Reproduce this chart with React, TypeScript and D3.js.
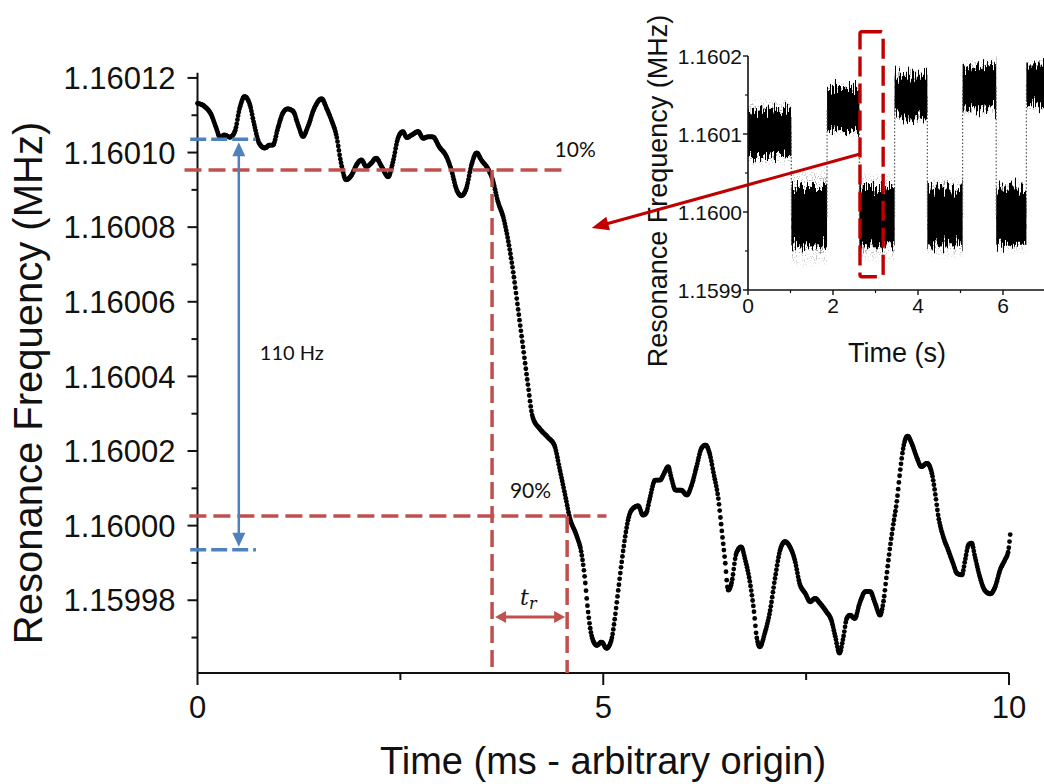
import React, { useLayoutEffect, useRef, useState } from "react";
import * as d3 from "d3";

// Frequencies are stored as offsets (Hz) from this base value.
const F0_MHZ = 1.16;

// Main trace: time (ms) and resonance-frequency offset (Hz)
const timeMs = [
  0.0, 0.09, 0.17, 0.23, 0.28, 0.33, 0.4, 0.46, 0.52, 0.58, 0.64, 0.7, 0.76, 0.83, 0.89, 0.93, 0.99,
  1.05, 1.11, 1.18, 1.24, 1.3, 1.36, 1.44, 1.53, 1.59, 1.65, 1.71, 1.77, 1.83, 1.9, 1.96, 2.02, 2.08,
  2.14, 2.2, 2.27, 2.35, 2.41, 2.47, 2.53, 2.58, 2.64, 2.72, 2.78, 2.84, 2.9, 2.98, 3.07, 3.13, 3.19,
  3.25, 3.31, 3.38, 3.44, 3.5, 3.58, 3.64, 3.7, 3.77, 3.83, 3.89, 3.95, 4.01, 4.07, 4.13, 4.22, 4.32,
  4.4, 4.46, 4.53, 4.59, 4.67, 4.73, 4.77, 4.81, 4.86, 4.92, 4.98, 5.04, 5.1, 5.14, 5.18, 5.22, 5.27,
  5.31, 5.35, 5.43, 5.49, 5.53, 5.57, 5.64, 5.7, 5.75, 5.8, 5.84, 5.89, 5.96, 6.03, 6.09, 6.15, 6.21,
  6.26, 6.31, 6.36, 6.42, 6.46, 6.5, 6.54, 6.58, 6.64, 6.7, 6.75, 6.81, 6.86, 6.89, 6.93, 6.99, 7.05,
  7.12, 7.18, 7.24, 7.3, 7.36, 7.42, 7.49, 7.55, 7.61, 7.67, 7.75, 7.81, 7.86, 7.91, 7.96, 8.0, 8.04,
  8.1, 8.16, 8.23, 8.29, 8.35, 8.41, 8.45, 8.49, 8.53, 8.57, 8.62, 8.66, 8.7, 8.75, 8.8, 8.86, 8.92,
  8.99, 9.05, 9.09, 9.13, 9.19, 9.25, 9.31, 9.36, 9.42, 9.46, 9.5, 9.54, 9.58, 9.64, 9.7, 9.77, 9.83,
  9.89, 9.95, 9.99, 10.02,
];
const freqHz = [
  113.2, 112.3, 110.1, 106.6, 104.0, 104.7, 104.1, 105.6, 111.9, 115.0, 113.2, 107.4, 102.5, 101.2,
  102.0, 102.0, 106.5, 110.5, 111.7, 111.0, 107.4, 104.3, 106.9, 111.9, 114.4, 111.9, 108.7, 104.7,
  97.1, 92.7, 94.0, 96.7, 98.0, 96.2, 97.1, 98.5, 96.2, 93.5, 97.6, 103.8, 105.6, 104.0, 104.7, 105.6,
  103.8, 104.2, 104.2, 101.5, 98.8, 95.2, 90.2, 88.4, 90.2, 97.0, 99.9, 97.9, 95.6, 92.5, 87.0, 82.5,
  76.2, 68.0, 58.1, 48.1, 38.1, 29.1, 25.9, 23.6, 21.4, 15.5, 8.2, 1.9, -2.6, -7.2, -13.5, -22.5,
  -29.8, -32.1, -31.2, -32.9, -30.7, -25.3, -18.2, -11.0, -3.0, 1.9, 4.2, 5.3, 2.8, 3.4, 6.9, 12.2,
  12.2, 14.0, 15.8, 12.7, 9.5, 9.5, 8.2, 10.9, 15.8, 20.7, 21.6, 19.4, 14.0, 6.9, -1.2, -9.2, -17.3,
  -15.5, -7.4, -5.7, -9.2, -15.5, -23.5, -29.8, -32.5, -28.9, -23.5, -13.7, -6.5, -4.3, -5.7, -9.2,
  -15.5, -18.2, -20.4, -19.5, -20.8, -23.1, -25.3, -29.8, -34.2, -29.8, -24.9, -24.0, -24.9, -20.8,
  -17.7, -17.7, -20.8, -24.0, -20.8, -13.7, -6.5, -0.3, 6.9, 14.9, 21.2, 24.0, 22.1, 18.5, 15.8, 16.7,
  14.0, 8.7, 2.4, -3.0, -6.5, -10.1, -12.8, -13.2, -9.2, -5.2, -4.7, -8.3, -13.7, -17.3, -18.3, -16.4,
  -11.9, -9.2, -7.0, -1.2,
];

// Main axes
const yTicksHz = [-20, 0, 20, 40, 60, 80, 100, 120];
const yMinorHz = [-30, -10, 10, 30, 50, 70, 90, 110];
const xTicksMs = [0, 5, 10];
const xMinorMs = [2.5, 7.5];

// Step annotations
const spanHz = 110;
const spanTopHz = 103.55;
const spanBottomHz = spanTopHz - spanHz;
const level10Hz = 95.3;
const level90Hz = 2.6;
const t10Ms = 3.63;
const t90Ms = 4.555;

// Inset: switching record between two frequency states
const insetEdgesS = [0, 1.02, 1.86, 2.62, 3.45, 4.22, 5.05, 5.84, 6.55, 7.05];
const insetLevelHz = [102, -6, 132, -6, 148, -7, 160, -6, 163];
const insetCoreHz = [29, 38, 27, 38, 28, 37, 27, 36, 26];
const insetSpreadHz = [46, 66, 38, 60, 35, 55, 39, 50, 36];
const insetYTicksHz = [-100, 0, 100, 200];
const insetYMinorHz = [-50, 50, 150];
const insetXTicksS = [0, 2, 4, 6];
const insetXMinorS = [1, 3, 5, 7];
const zoomWindowS = [2.635, 3.18];
const zoomWindowHz = [-83, 231];
const zoomArrowFrom = { s: 2.635, hz: 74.4 };
const zoomArrowTo = { ms: 4.858, hz: 79.8 };

const RED = "#C0504D";
const BLUE = "#4F81BD";
const DARK_RED = "#C00000";
const SANS = "'Liberation Sans', Arial, sans-serif";
const LABEL_FONT = "Lato, 'Open Sans', sans-serif";

const x = d3.scaleLinear().domain([0, 10]).range([197.5, 1009]);
const y = d3.scaleLinear().domain([-39.5, 121.4]).range([673, 72.7]);
const ix = d3.scaleLinear().domain([0, 2]).range([748, 833]);
const iy = d3.scaleLinear().domain([-100, 200]).range([290, 56]);

const fmtMain = (h: number) => (F0_MHZ + h * 1e-6).toFixed(5);
const fmtInset = (h: number) => (F0_MHZ + h * 1e-6).toFixed(4);

function arrowHead(tx: number, ty: number, fx: number, fy: number, len: number, half: number) {
  const dx = tx - fx;
  const dy = ty - fy;
  const n = Math.hypot(dx, dy) || 1;
  const ux = dx / n;
  const uy = dy / n;
  const bx = tx - ux * len;
  const by = ty - uy * len;
  return `${tx},${ty} ${bx - uy * half},${by + ux * half} ${bx + uy * half},${by - ux * half}`;
}

export default function App() {
  const pathRef = useRef<SVGPathElement>(null);
  const [dots, setDots] = useState<[number, number][]>([]);

  const line = d3
    .line<number>()
    .x((_, i) => x(timeMs[i]))
    .y((d) => y(d))
    .curve(d3.curveMonotoneX);
  const tracePath = line(freqHz) || "";

  // Place markers at an even time step along the drawn trace
  useLayoutEffect(() => {
    const p = pathRef.current;
    if (!p) return;
    const L = p.getTotalLength();
    const pts: [number, number][] = [];
    const step = 0.7;
    let nextX = x(timeMs[0]);
    for (let s = 0; s <= L; s += 0.25) {
      const q = p.getPointAtLength(s);
      if (q.x >= nextX) {
        pts.push([q.x, q.y]);
        nextX += step;
      }
    }
    setDots(pts);
  }, [tracePath]);

  const axisColor = "#111";
  const blueX = x(0.509);
  const yTop = y(spanTopHz);
  const yBot = y(spanBottomHz);

  const trX0 = x(t10Ms) + 3;
  const trX1 = x(t90Ms) - 2;
  const trY = y(-24.5);

  const aFromX = ix(zoomArrowFrom.s);
  const aFromY = iy(zoomArrowFrom.hz);
  const aToX = x(zoomArrowTo.ms);
  const aToY = y(zoomArrowTo.hz);

  return (
    <div style={{ position: "absolute", left: 0, top: 0 }}>
      <svg width={1044} height={784} style={{ display: "block", background: "#fff" }}>
        <defs>
          <filter id="jag" x="0" y="-1" width="1" height="3" colorInterpolationFilters="sRGB">
            <feTurbulence type="fractalNoise" baseFrequency="0.9 0.04" numOctaves={2} seed={4} result="n" />
            <feColorMatrix
              in="n"
              type="matrix"
              values="0 0 0 0 0.5  0 1 0 0 0  0 0 0 0 0  0 0 0 0 1"
              result="d"
            />
            <feDisplacementMap in="SourceGraphic" in2="d" scale={34} xChannelSelector="R" yChannelSelector="G" />
          </filter>
          <filter id="speckle" x="0" y="0" width="1" height="1" colorInterpolationFilters="sRGB">
            <feTurbulence type="fractalNoise" baseFrequency="1.1 0.5" numOctaves={1} seed={9} result="n" />
            <feColorMatrix
              in="n"
              type="matrix"
              values="0 0 0 0 0  0 0 0 0 0  0 0 0 0 0  14 0 0 0 -8"
              result="m"
            />
            <feComposite in="SourceGraphic" in2="m" operator="in" />
          </filter>
          <linearGradient id="fade" x1="0" y1="0" x2="0" y2="1">
            <stop offset="0" stopColor="#000" stopOpacity={0} />
            <stop offset="0.5" stopColor="#000" stopOpacity={1} />
            <stop offset="1" stopColor="#000" stopOpacity={0} />
          </linearGradient>
        </defs>

        {/* ---------- Inset ---------- */}
        <g>
          {insetLevelHz.map((lv, i) => {
            const x0 = ix(insetEdgesS[i]);
            const x1 = ix(insetEdgesS[i + 1]);
            return (
              <g key={`seg${i}`}>
                <rect
                  x={x0}
                  width={x1 - x0}
                  y={iy(lv + insetSpreadHz[i])}
                  height={iy(lv - insetSpreadHz[i]) - iy(lv + insetSpreadHz[i])}
                  fill="url(#fade)"
                  filter="url(#speckle)"
                />
                <rect
                  x={x0}
                  width={x1 - x0}
                  y={iy(lv + insetCoreHz[i])}
                  height={iy(lv - insetCoreHz[i]) - iy(lv + insetCoreHz[i])}
                  fill="#000"
                  filter="url(#jag)"
                />
              </g>
            );
          })}
          {insetLevelHz.slice(0, -1).map((lv, i) => (
            <line
              key={`tr${i}`}
              x1={ix(insetEdgesS[i + 1])}
              x2={ix(insetEdgesS[i + 1])}
              y1={iy(lv)}
              y2={iy(insetLevelHz[i + 1])}
              stroke="#555"
              strokeWidth={1.2}
              strokeDasharray="1.5 2"
            />
          ))}

          <line x1={ix(0)} x2={ix(0)} y1={iy(200)} y2={iy(-100)} stroke={axisColor} strokeWidth={1.6} />
          <line x1={ix(0)} x2={1044} y1={iy(-100)} y2={iy(-100)} stroke={axisColor} strokeWidth={1.6} />
          {insetYTicksHz.map((h) => (
            <g key={`iyt${h}`}>
              <line x1={ix(0) - 5} x2={ix(0)} y1={iy(h)} y2={iy(h)} stroke={axisColor} strokeWidth={1.4} />
              <text
                x={ix(0) - 6}
                y={iy(h)}
                dy="0.36em"
                textAnchor="end"
                fontFamily={SANS}
                fontSize={21}
                fill="#111"
              >
                {fmtInset(h)}
              </text>
            </g>
          ))}
          {insetYMinorHz.map((h) => (
            <line key={`iym${h}`} x1={ix(0) - 3} x2={ix(0)} y1={iy(h)} y2={iy(h)} stroke={axisColor} strokeWidth={1.2} />
          ))}
          {insetXTicksS.map((s) => (
            <g key={`ixt${s}`}>
              <line x1={ix(s)} x2={ix(s)} y1={iy(-100)} y2={iy(-100) + 5} stroke={axisColor} strokeWidth={1.4} />
              <text x={ix(s)} y={313} textAnchor="middle" fontFamily={SANS} fontSize={21} fill="#111">
                {s}
              </text>
            </g>
          ))}
          {insetXMinorS.map((s) => (
            <line key={`ixm${s}`} x1={ix(s)} x2={ix(s)} y1={iy(-100)} y2={iy(-100) + 3} stroke={axisColor} strokeWidth={1.2} />
          ))}
          <text x={897} y={362} textAnchor="middle" fontFamily={SANS} fontSize={27} fill="#111">
            Time (s)
          </text>
          <text
            transform={`translate(667,191) rotate(-90)`}
            textAnchor="middle"
            fontFamily={SANS}
            fontSize={27}
            fill="#111"
          >
            Resonance Frequency (MHz)
          </text>

          <rect
            x={ix(zoomWindowS[0])}
            y={iy(zoomWindowHz[1])}
            width={ix(zoomWindowS[1]) - ix(zoomWindowS[0])}
            height={iy(zoomWindowHz[0]) - iy(zoomWindowHz[1])}
            rx={2}
            fill="none"
            stroke={DARK_RED}
            strokeWidth={3.4}
            strokeDasharray="20 7"
          />
        </g>

        {/* ---------- Main axes ---------- */}
        <line x1={x(0)} x2={x(0)} y1={y(121.4)} y2={y(-39.5)} stroke={axisColor} strokeWidth={2} />
        <line x1={x(0)} x2={x(10)} y1={y(-39.5)} y2={y(-39.5)} stroke={axisColor} strokeWidth={2} />
        {yTicksHz.map((h) => (
          <g key={`yt${h}`}>
            <line x1={x(0) - 10} x2={x(0)} y1={y(h)} y2={y(h)} stroke={axisColor} strokeWidth={2} />
            <text
              x={x(0) - 22}
              y={y(h)}
              dy="0.36em"
              textAnchor="end"
              fontFamily={SANS}
              fontSize={31}
              fill="#111"
            >
              {fmtMain(h)}
            </text>
          </g>
        ))}
        {yMinorHz.map((h) => (
          <line key={`ym${h}`} x1={x(0) - 6} x2={x(0)} y1={y(h)} y2={y(h)} stroke={axisColor} strokeWidth={2} />
        ))}
        {xTicksMs.map((t) => (
          <g key={`xt${t}`}>
            <line x1={x(t)} x2={x(t)} y1={673} y2={685} stroke={axisColor} strokeWidth={2} />
            <text x={x(t)} y={718} textAnchor="middle" fontFamily={SANS} fontSize={31} fill="#111">
              {t}
            </text>
          </g>
        ))}
        {xMinorMs.map((t) => (
          <line key={`xm${t}`} x1={x(t)} x2={x(t)} y1={673} y2={680} stroke={axisColor} strokeWidth={2} />
        ))}
        <text x={603} y={774} textAnchor="middle" fontFamily={SANS} fontSize={38} fill="#111">
          Time (ms - arbitrary origin)
        </text>
        <text
          transform={`translate(42,383) rotate(-90)`}
          textAnchor="middle"
          fontFamily={SANS}
          fontSize={40}
          fill="#111"
        >
          Resonance Frequency (MHz)
        </text>

        {/* ---------- Trace ---------- */}
        <path ref={pathRef} d={tracePath} fill="none" stroke="none" />
        <g fill="#000">
          {dots.map((p, i) => (
            <circle key={i} cx={p[0]} cy={p[1]} r={2.4} />
          ))}
        </g>

        {/* ---------- Step annotations ---------- */}
        <line
          x1={x(-0.16)}
          x2={x(4.49)}
          y1={y(level10Hz)}
          y2={y(level10Hz)}
          stroke={RED}
          strokeWidth={3.5}
          strokeDasharray="17 7"
        />
        <line
          x1={x(-0.1)}
          x2={x(5.04)}
          y1={y(level90Hz)}
          y2={y(level90Hz)}
          stroke={RED}
          strokeWidth={3.5}
          strokeDasharray="17 7"
        />
        <line
          x1={x(t10Ms)}
          x2={x(t10Ms)}
          y1={y(level10Hz)}
          y2={673}
          stroke={RED}
          strokeWidth={3.5}
          strokeDasharray="17 7"
        />
        <line
          x1={x(t90Ms)}
          x2={x(t90Ms)}
          y1={y(level90Hz)}
          y2={673}
          stroke={RED}
          strokeWidth={3.5}
          strokeDasharray="17 7"
        />
        <text x={x(4.4)} y={y(level10Hz) - 13} fontFamily={LABEL_FONT} fontSize={21} fill="#111">
          10%
        </text>
        <text x={x(3.85)} y={y(level90Hz) - 18} fontFamily={LABEL_FONT} fontSize={21} fill="#111">
          90%
        </text>

        {/* rise-time arrow */}
        <line x1={trX0 + 8} x2={trX1 - 8} y1={trY} y2={trY} stroke={RED} strokeWidth={3} />
        <polygon points={arrowHead(trX0, trY, trX1, trY, 11, 6)} fill={RED} />
        <polygon points={arrowHead(trX1, trY, trX0, trY, 11, 6)} fill={RED} />
        <text
          x={(trX0 + trX1) / 2 - 10}
          y={trY - 12}
          fontFamily="'DejaVu Serif', 'Liberation Serif', serif"
          fontStyle="italic"
          fontSize={22}
          fill="#111"
        >
          t
          <tspan fontSize={16} dy={4}>
            r
          </tspan>
        </text>

        {/* step height */}
        <line
          x1={x(-0.09)}
          x2={x(0.72)}
          y1={yTop}
          y2={yTop}
          stroke={BLUE}
          strokeWidth={3.5}
          strokeDasharray="16 5"
        />
        <line
          x1={x(-0.09)}
          x2={x(0.72)}
          y1={yBot}
          y2={yBot}
          stroke={BLUE}
          strokeWidth={3.5}
          strokeDasharray="16 5"
        />
        <line x1={blueX} x2={blueX} y1={yTop + 14} y2={yBot - 14} stroke={BLUE} strokeWidth={2.5} />
        <polygon points={arrowHead(blueX, yTop + 3, blueX, yBot, 14, 6.5)} fill={BLUE} />
        <polygon points={arrowHead(blueX, yBot - 3, blueX, yTop, 14, 6.5)} fill={BLUE} />
        <text x={blueX + 21} y={360} fontFamily={LABEL_FONT} fontSize={20} fill="#111">
          {`${spanHz} Hz`}
        </text>

        {/* link from inset window to the main trace */}
        <line
          x1={aFromX}
          y1={aFromY}
          x2={aToX + (aFromX - aToX) * 0.05}
          y2={aToY + (aFromY - aToY) * 0.05}
          stroke={DARK_RED}
          strokeWidth={3}
        />
        <polygon points={arrowHead(aToX, aToY, aFromX, aFromY, 17, 7)} fill={DARK_RED} />
      </svg>
    </div>
  );
}
